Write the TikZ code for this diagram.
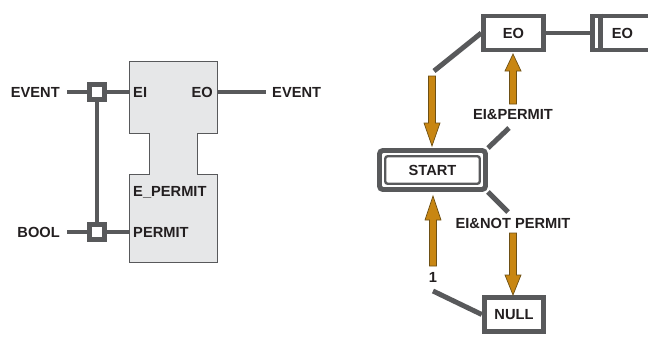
\documentclass[tikz,border=0pt]{standalone}
\usepackage{fontspec}
\setmainfont{Liberation Sans}
\usetikzlibrary{positioning,calc}

\definecolor{wiregray}{RGB}{88,89,91}
\definecolor{blockfill}{RGB}{230,231,232}
\definecolor{txtblack}{RGB}{35,31,32}
\definecolor{ecorange}{RGB}{200,134,18}
\definecolor{ecoutline}{RGB}{110,80,20}

\tikzset{
  lbl/.style={font=\fontsize{12.5}{14}\selectfont\bfseries, text=txtblack, inner sep=0pt},
  wire/.style={draw=wiregray, line width=4.25pt},
  withbox/.style={draw=wiregray, line width=4.25pt, fill=white, minimum size=0.45cm, inner sep=0pt},
  statebox/.style={lbl, draw=wiregray, line width=4.25pt, fill=white, minimum width=1.785cm, minimum height=1.02cm},
  flow/.style={fill=ecorange, draw=ecoutline, line width=0.6pt},
}

% vertical flow arrow: x, tail y, head base y, tip y
\newcommand{\flowarrow}[4]{%
  \draw[flow] (#1-3.5,#2) -- (#1-3.5,#3) -- (#1-8,#3) -- (#1,#4) -- (#1+8,#3) -- (#1+3.5,#3) -- (#1+3.5,#2) -- cycle;}

\begin{document}
\begin{tikzpicture}[x=0.03cm, y=-0.03cm]
  \clip (0,0) rectangle (648,337);

  % Function block body
  \draw[wiregray, line width=0.8pt, fill=blockfill] (129,61) -- (217,61) -- (217,133) -- (197,133) -- (197,174) -- (217,174) -- (217,262) -- (129,262) -- (129,174) -- (149,174) -- (149,133) -- (129,133) -- cycle;

  % Block interface
  \node[lbl, anchor=west] (ei) at (133,92) {EI};
  \node[lbl, anchor=east] (eo) at (213,92) {EO};
  \node[lbl, anchor=west] (eperm) at (133,192) {E\_PERMIT};
  \node[lbl, anchor=west] (perm) at (133,232) {PERMIT};
  \coordinate (eiport) at (129,92);
  \coordinate (eoport) at (217,92);
  \coordinate (permport) at (129,232);

  % Inputs with WITH association
  \node[lbl, anchor=east] (evin) at (60,92) {EVENT};
  \node[lbl, anchor=east] (boolin) at (60,232) {BOOL};
  \node[withbox] (wev) at (97,92) {};
  \node[withbox] (wbool) at (97,232) {};
  \draw[wire, shorten <=6pt] (evin.east) -- (wev.west);
  \draw[wire] (wev.east) -- (eiport);
  \draw[wire, shorten <=6pt] (boolin.east) -- (wbool.west);
  \draw[wire] (wbool.east) -- (permport);
  \draw[wire] (wev.south) -- (wbool.north);

  % Output
  \node[lbl, anchor=west] (evout) at (272,92) {EVENT};
  \draw[wire, shorten >=5pt] (eoport) -- (evout.west);

  % ECC states
  \node[statebox] (eo1) at (513.5,33) {EO};
  \node[statebox] (eo2) at (622.5,33) {EO};
  \draw[wire] ($(eo2.north west)+(10.5,0)$) -- ($(eo2.south west)+(10.5,0)$);
  \draw[wire] (eo1.east) -- (eo2.west);

  \node[draw=wiregray, line width=4.25pt, rounded corners=3pt, minimum width=3.18cm, minimum height=1.17cm] (startframe) at (432.5,170) {};
  \node[lbl, draw=wiregray, line width=2pt, fill=white, rounded corners=2pt, minimum width=2.835cm, minimum height=0.825cm] (start) at (432.5,170) {START};

  \node[statebox] (null) at (514,314.5) {NULL};

  % Transitions
  \coordinate (t1) at (434,71);
  \draw[wire] (eo1.west) -- (t1);

  \coordinate (t2) at (509,128);
  \draw[wire] (startframe.north east) -- (t2);
  \node[lbl] (c2) at (513,115) {EI\&PERMIT};

  \coordinate (t3) at (508,212);
  \draw[wire] (startframe.south east) -- (t3);
  \node[lbl] (c3) at (513,223) {EI\&NOT PERMIT};

  \coordinate (t4) at (433,291);
  \draw[wire] (null.west) -- (t4);
  \node[lbl] (c4) at (433,277) {1};

  % Flow arrows
  \flowarrow{432}{76}{123}{146}
  \flowarrow{513}{104}{71}{54}
  \flowarrow{513}{233}{275}{295}
  \flowarrow{433}{266}{220}{196}
\end{tikzpicture}
\end{document}
